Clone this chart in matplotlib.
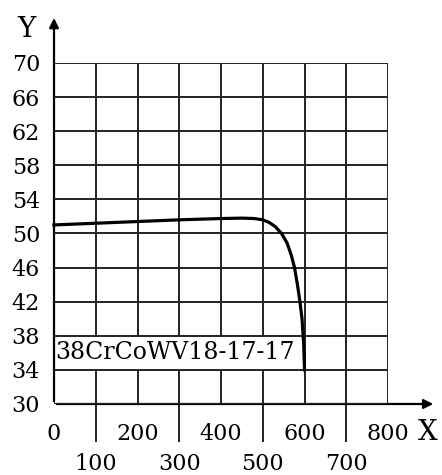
import matplotlib.pyplot as plt

plt.rcParams['font.family'] = ['DejaVu Serif']

# curve
x_vals = [0, 100, 200, 300, 400, 450, 480, 500, 515, 530, 545, 558, 568,
          576, 583, 589, 594, 598, 600]
y_vals = [51.0, 51.2, 51.4, 51.6, 51.75, 51.8, 51.75, 51.6, 51.3, 50.8,
          50.0, 48.9, 47.5, 46.0, 44.0, 42.0, 40.0, 37.0, 34.0]
label = '38CrCoWV18-17-17'

x_major = [0, 200, 400, 600, 800]
x_minor = [100, 300, 500, 700]
y_ticks = [30, 34, 38, 42, 46, 50, 54, 58, 62, 66, 70]

fig = plt.figure(figsize=(4.42, 4.75), dpi=100)
ax = fig.add_axes([0.1222, 0.1495, 0.7557, 0.7180])
ax.set_xlim(0, 800)
ax.set_ylim(30, 70)

for s in ax.spines.values():
    s.set_visible(False)

# grid: verticals under the label box, horizontals above it
for xv in x_major + x_minor:
    ax.axvline(xv, color='#222222', lw=1.4, zorder=1)
for yv in y_ticks:
    ax.axhline(yv, color='#222222', lw=1.4, zorder=3.5)

# ticks
ax.set_xticks(x_major)
ax.set_xticks(x_minor, minor=True)
ax.set_xticklabels([str(v) for v in x_major])
ax.set_xticklabels([str(v) for v in x_minor], minor=True)
ax.tick_params(axis='x', which='major', length=0, pad=14, labelsize=16)
ax.tick_params(axis='x', which='minor', length=27, width=1.4, color='#222222',
               pad=8, labelsize=16)
ax.set_yticks(y_ticks)
ax.tick_params(axis='y', length=0, pad=10, labelsize=16)

# axes with arrows
ax.annotate('', xy=(915, 30), xytext=(0, 30), xycoords='data',
            arrowprops=dict(arrowstyle='-|>', color='black', lw=1.6,
                            mutation_scale=14), annotation_clip=False)
ax.annotate('', xy=(0, 75.6), xytext=(0, 30), xycoords='data',
            arrowprops=dict(arrowstyle='-|>', color='black', lw=1.6,
                            mutation_scale=14), annotation_clip=False)
ax.text(895, 26.6, 'X', fontsize=20, ha='center', va='center', clip_on=False)
ax.text(-65, 73.9, 'Y', fontsize=20, ha='center', va='center', clip_on=False)

# curve
ax.plot(x_vals, y_vals, color='black', lw=2.3, zorder=4, clip_on=False)

# label box
ax.text(3, 36, label, fontsize=17, ha='left', va='center', zorder=2,
        bbox=dict(facecolor='white', edgecolor='none', pad=3.5))

fig.savefig('out.png', dpi=100)
